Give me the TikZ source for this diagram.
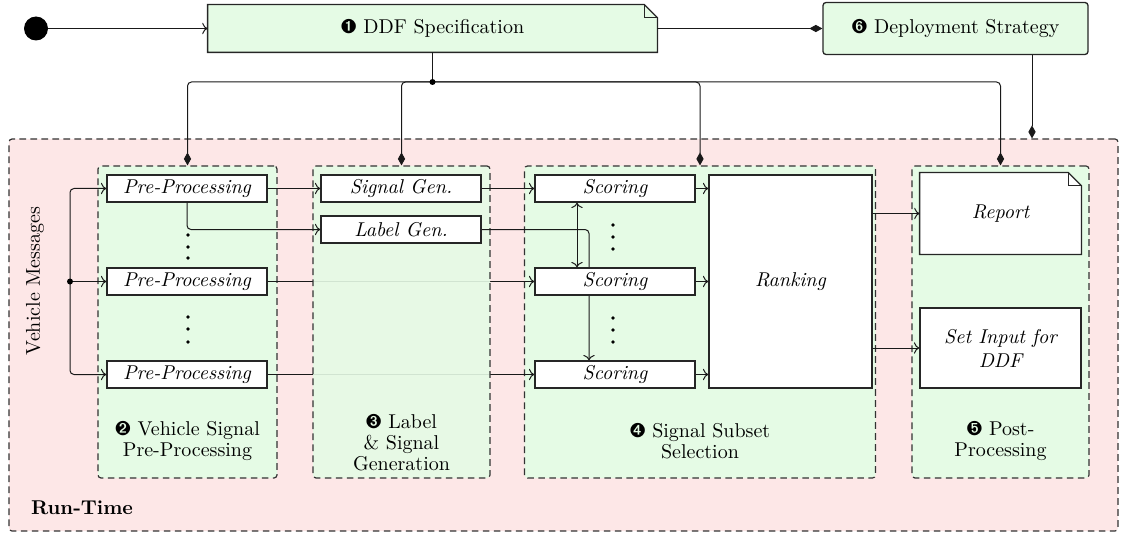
\documentclass[tikz,border=0pt]{standalone}
\usepackage{pifont}
\usetikzlibrary{arrows.meta,backgrounds}
\pgfdeclarelayer{under}\pgfdeclarelayer{mid}\pgfdeclarelayer{docs}
\pgfsetlayers{background,under,mid,docs,main}
\definecolor{blockgreen}{RGB}{229,251,229}
\definecolor{rtpink}{RGB}{253,231,231}
\newcommand\pxu{0.5pt}
\begin{document}
\begin{tikzpicture}[x=\pxu, y=-\pxu,
  sz/.style 2 args={minimum width=#1*\pxu, minimum height=#2*\pxu},
  box/.style={draw=black!85, line width=0.65pt, fill=white, font=\itshape, inner sep=1pt},
  block/.style={draw=black!80, dash pattern=on 3.3pt off 2.2pt, line width=0.6pt, fill=blockgreen, rounded corners=1.5pt},
  rtbox/.style={draw=black!80, dash pattern=on 3.3pt off 2.2pt, line width=0.6pt, fill=rtpink, rounded corners=1.5pt},
  conn/.style={line width=0.5pt, black!90, -{To}},
  comp/.style={line width=0.5pt, black!90, -{Diamond[length=6.5pt,width=3.6pt]}},
  lbl/.style={align=center, font=\fontsize{10}{10.5}\selectfont},
  dot/.style={fill=black}
]
\useasboundingbox (0,0) rectangle (1125,535);

% background containers
\begin{pgfonlayer}{background}
\node[rtbox, sz={1109}{392}] (rt) at (563.5,335) {};
\node[block, sz={179}{312}] (b2) at (187.5,322) {};
\node[block, sz={351}{312}] (b4) at (700,322) {};
\node[block, sz={177}{312}] (b5) at (1000.5,322) {};
\end{pgfonlayer}
\begin{pgfonlayer}{mid}
\node[block, fill opacity=0.9, sz={177}{312}] (b3) at (401.5,322) {};
\end{pgfonlayer}

% top nodes
\node[circle, fill=black, minimum size=12pt, inner sep=0pt] (start) at (36,28.5) {};
\node[sz={449}{47}, inner sep=0pt] (ddf) at (432.5,28.5) {\ding{202} DDF Specification};
\node[draw=black!85, line width=0.65pt, fill=blockgreen, rounded corners=1.5pt, sz={265}{52}] (dep) at (955.5,28.5) {\ding{207} Deployment Strategy};

% inner boxes
\node[box, sz={160}{27}] (pp1) at (187,188.5) {Pre-Processing};
\node[box, sz={160}{27}] (pp2) at (187,281.5) {Pre-Processing};
\node[box, sz={160}{27}] (pp3) at (187,374.5) {Pre-Processing};
\node[box, sz={160}{27}] (sig) at (401,188.5) {Signal Gen.};
\node[box, sz={160}{27}] (lab) at (401,229.5) {Label Gen.};
\node[box, sz={160}{27}] (sc1) at (615,188.5) {Scoring};
\node[box, sz={160}{27}] (sc2) at (615,281.5) {Scoring};
\node[box, sz={160}{27}] (sc3) at (615,374.5) {Scoring};
\node[box, sz={163}{213}] (rank) at (790.5,281.5) {Ranking};
\node[sz={161}{81}, font=\itshape] (report) at (1000.5,213.5) {Report};
\node[box, sz={161}{80}, align=center] (setin) at (1000.5,348) {Set Input for\\DDF};

% labels
\node[rotate=90] (vmsg) at (35,281) {Vehicle Messages};
\node[lbl] (l2) at (187.5,441) {\ding{203} Vehicle Signal\\Pre-Processing};
\node[lbl] (l3) at (401.5,443) {\ding{204} Label\\\& Signal\\Generation};
\node[lbl] (l4) at (700,441) {\ding{205} Signal Subset\\Selection};
\node[lbl] (l5) at (1000.5,441) {\ding{206} Post-\\Processing};
\node[anchor=west, font=\bfseries] (rtl) at (24,508) {Run-Time};

% dog-ear shapes
\begin{pgfonlayer}{docs}
\draw[draw=black!85, line width=0.65pt, fill=blockgreen]
  (ddf.south west) -- (ddf.north west) -- ([xshift=-6.5pt]ddf.north east)
  -- ([yshift=-6.5pt]ddf.north east) -- (ddf.south east) -- cycle;
\draw[draw=black!85, line width=0.65pt] ([xshift=-6.5pt]ddf.north east) |- ([yshift=-6.5pt]ddf.north east);
\draw[draw=black!85, line width=0.65pt, fill=white]
  (report.south west) -- (report.north west) -- ([xshift=-6.5pt]report.north east)
  -- ([yshift=-6.5pt]report.north east) -- (report.south east) -- cycle;
\draw[draw=black!85, line width=0.65pt] ([xshift=-6.5pt]report.north east) |- ([yshift=-6.5pt]report.north east);
\end{pgfonlayer}

% top connectors
\draw[conn] (start) -- (ddf.west);
\draw[comp] (ddf.east) -- (dep.west);
\coordinate (busy) at (0,82);
\coordinate (bus) at (ddf.south |- busy);
\draw[line width=0.5pt, black!90] (ddf.south) -- (bus);
\foreach \b in {b2,b3,b4,b5} \draw[comp, rounded corners=2pt] (bus) -| (\b.north);
\fill (bus) circle (1.5pt);
\coordinate (depx) at (1032,0);
\draw[comp] (dep.south -| depx) -- (rt.north -| depx);

% vehicle messages
\coordinate (vm) at (70,281.5);
\draw[conn, rounded corners=2pt] (vm) |- (pp1.west);
\draw[conn] (vm) -- (pp2.west);
\draw[conn, rounded corners=2pt] (vm) |- (pp3.west);
\fill (vm) circle (1.5pt);

% pre-processing to generation
\draw[conn] (pp1.east) -- (sig.west);
\draw[conn, rounded corners=2pt] (pp1.south) |- (lab.west);
\begin{pgfonlayer}{under}
\draw[conn] (pp2.east) -- (sc2.west);
\draw[conn] (pp3.east) -- (sc3.west);
\end{pgfonlayer}
\draw[conn] (sig.east) -- (sc1.west);

% label to scoring
\coordinate (dblx) at (577,0);
\coordinate (lvx) at (589,0);
\begin{pgfonlayer}{docs}
\draw[conn, rounded corners=2pt] (lab.east) -| (sc3.north -| lvx);
\end{pgfonlayer}
\draw[line width=0.5pt, black!90, {To}-{To}] (sc1.south -| dblx) -- (sc2.north -| dblx);

% scoring to ranking
\foreach \s in {sc1,sc2,sc3} \draw[conn] (\s.east) -- (\s.east -| rank.west);
\draw[conn] (rank.east |- report.west) -- (report.west);
\draw[conn] (rank.east |- setin.west) -- (setin.west);

% ellipsis dots
\foreach \y in {235,247,258,317,329,342} \fill (188,\y) circle (0.9pt);
\foreach \y in {225,237,249,318,330,342} \fill (613,\y) circle (0.9pt);
\end{tikzpicture}
\end{document}
